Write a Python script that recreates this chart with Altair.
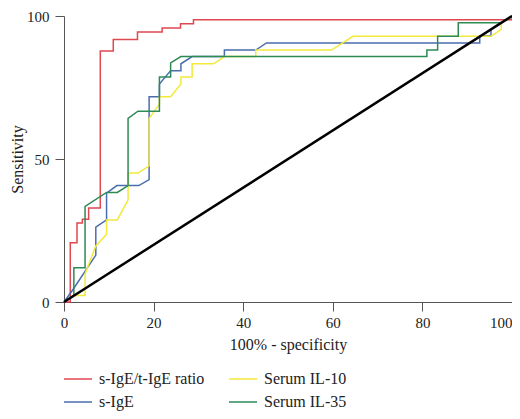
import altair as alt
import pandas as pd

series_names = ["s-IgE/t-IgE ratio", "s-IgE", "Serum IL-10", "Serum IL-35"]
series_colors = ["#E0474F", "#4A6CB0", "#F2E93A", "#2E8A55"]

ratio_x = [0, 1.4, 1.4, 2.9, 2.9, 4.1, 4.1, 5.5, 5.5, 8.1, 8.1, 11.0, 11.0, 16.4, 16.4, 21.9, 21.9, 26.0, 26.0, 28.9, 28.9, 100, 100]
ratio_y = [0, 0, 20.7, 20.7, 27.6, 27.6, 28.9, 28.9, 32.9, 32.9, 87.8, 87.8, 91.8, 91.8, 94.4, 94.4, 95.8, 95.8, 97.3, 97.3, 98.7, 98.7, 100]

sige_x = [0, 2.2, 7.1, 7.1, 9.5, 9.5, 11.8, 16.7, 19.0, 19.0, 21.3, 21.3, 23.8, 26.1, 26.1, 28.6, 35.8, 35.8, 42.8, 45.2, 92.8, 92.8, 95.3, 95.3, 100]
sige_y = [0, 4.8, 16.4, 26.2, 28.7, 38.1, 40.7, 40.7, 42.8, 71.8, 71.8, 76.2, 80.9, 80.9, 83.3, 85.8, 85.8, 88.1, 88.1, 90.6, 90.6, 93.1, 93.1, 95.3, 100]

il10_x = [0, 2.2, 4.7, 4.7, 7.1, 9.5, 9.5, 11.9, 14.3, 14.3, 16.5, 19.0, 19.0, 21.3, 21.3, 23.8, 26.1, 26.1, 28.6, 28.6, 33.4, 35.8, 42.8, 42.8, 59.7, 64.5, 95.3, 97.6, 97.6, 100]
il10_y = [0, 2.3, 2.3, 9.8, 19.6, 23.7, 28.7, 28.7, 35.7, 45.1, 45.1, 47.6, 64.2, 69.2, 71.8, 71.8, 76.2, 78.7, 78.7, 83.3, 83.3, 85.8, 85.8, 88.1, 88.1, 92.9, 92.9, 95.3, 97.6, 100]

il35_x = [0, 2.2, 2.2, 4.7, 4.7, 9.5, 11.9, 14.3, 14.3, 16.5, 21.3, 21.3, 23.8, 23.8, 26.1, 81.0, 81.0, 83.4, 83.4, 88.0, 88.0, 97.6, 100]
il35_y = [0, 2.4, 12.0, 12.0, 33.4, 38.3, 38.3, 40.7, 64.2, 66.7, 66.7, 78.7, 78.7, 83.6, 85.8, 85.8, 88.1, 88.1, 92.9, 92.9, 97.6, 97.6, 100]

diag_x = [0, 100]
diag_y = [0, 100]

x_ticks = [0, 20, 40, 60, 80, 100]
y_ticks = [0, 50, 100]

rows = []
for name, xs, ys in [("s-IgE/t-IgE ratio", ratio_x, ratio_y),
                     ("s-IgE", sige_x, sige_y),
                     ("Serum IL-10", il10_x, il10_y),
                     ("Serum IL-35", il35_x, il35_y)]:
    for i, (xv, yv) in enumerate(zip(xs, ys)):
        rows.append({"series": name, "x": xv, "y": yv, "order": i})
df = pd.DataFrame(rows)
diag_df = pd.DataFrame({"x": diag_x, "y": diag_y})

FONT = "Liberation Serif"

xenc = alt.X("x:Q", scale=alt.Scale(domain=[0, 100], nice=False),
             axis=alt.Axis(values=x_ticks, title="100% - specificity", titlePadding=6,
                           labelAlign=alt.expr("datum.value == 100 ? 'right' : 'center'")))
yenc = alt.Y("y:Q", scale=alt.Scale(domain=[0, 100], nice=False),
             axis=alt.Axis(values=y_ticks, title="Sensitivity", titleX=-47,
                           titleBaseline="middle", labelPadding=6))

roc = alt.Chart(df).mark_line(strokeWidth=1.5, clip=False).encode(
    x=xenc,
    y=yenc,
    color=alt.Color("series:N",
                    scale=alt.Scale(domain=series_names, range=series_colors),
                    sort=series_names,
                    legend=alt.Legend(title=None, orient="none", legendX=-1, legendY=348,
                                      columns=2, columnPadding=21, rowPadding=-8,
                                      symbolType="stroke", symbolSize=784,
                                      symbolStrokeWidth=1.5, labelOffset=6,
                                      labelFont=FONT, labelFontSize=16,
                                      labelColor="#222", padding=0)),
    order="order:Q",
)

diag = alt.Chart(diag_df).mark_line(color="black", strokeWidth=2.5, clip=False).encode(
    x=alt.X("x:Q"), y=alt.Y("y:Q"))

chart = alt.layer(roc, diag).properties(
    width=448, height=286,
    autosize=alt.AutoSizeParams(type="none"),
    padding={"left": 56, "top": 8, "right": 0, "bottom": 109},
).configure_view(stroke=None).configure_axis(
    grid=False, domainColor="#555", tickColor="#555", tickSize=9,
    labelFont=FONT, labelFontSize=15, labelColor="#222",
    titleFont=FONT, titleFontSize=16, titleFontWeight="normal", titleColor="#222",
    titlePadding=5, labelPadding=4,
)

chart.save("out.html", embed_options={"renderer": "svg", "actions": False})
